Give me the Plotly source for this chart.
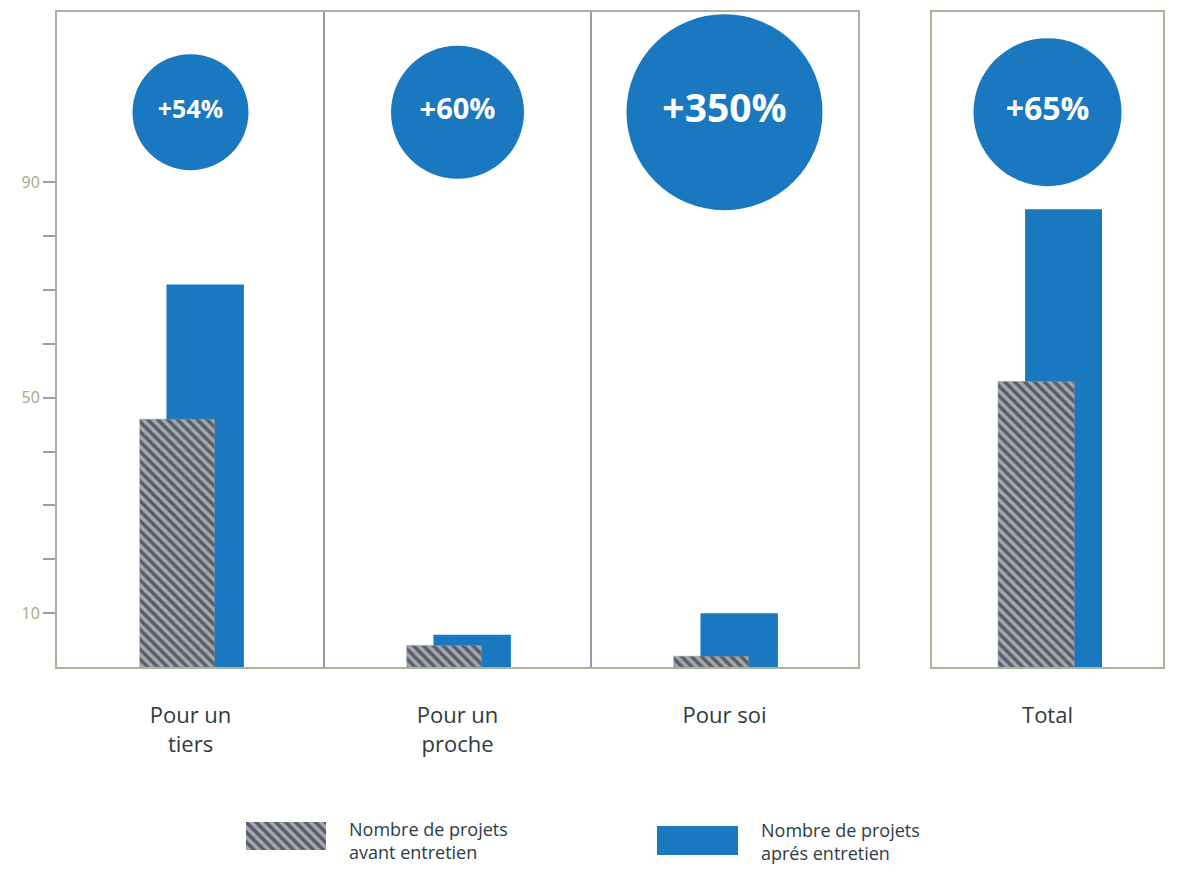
import plotly.graph_objects as go

# ---- data ----
categories = ["Pour un<br>tiers", "Pour un<br>proche", "Pour soi"]
total_category = ["Total"]
before_values = [46, 4, 2]
after_values = [71, 6, 10]
total_before = [53]
total_after = [85]
pct_labels = ["+54%", "+60%", "+350%"]
total_pct_label = ["+65%"]
y_tick_vals = [10, 20, 30, 40, 50, 60, 70, 80, 90]
y_tick_text = ["10", "", "", "", "50", "", "", "", "90"]
legend_labels = ["Nombre de projets<br>avant entretien", "Nombre de projets<br>aprés entretien"]

# ---- style ----
OFF = 8  # page body margin
W, H = 1178 - 2 * OFF, 875 - 2 * OFF
BLUE = "#1a78c1"
FRAME = "#a8b49c"
HATCH_BG = "#a3a8b2"
HATCH = dict(shape="\\", fgcolor="#0d1118", bgcolor=HATCH_BG, size=7, solidity=0.5)
FONT = "Open Sans"
bubble_sizes = [116, 133, 196]
total_bubble_size = [148]
bubble_font = [25, 29, 39]
total_bubble_font = [32]
BUBBLE_Y = 103


def px_x(p):
    return (p - OFF) / W


def px_y(p):
    return 1 - (p - OFF) / H


fig = go.Figure()

# main panel bars (after first, hatched before on top)
fig.add_trace(go.Bar(x=categories, y=after_values, offset=-0.09, width=0.29,
                     marker=dict(color=BLUE, line=dict(width=0)),
                     xaxis="x", yaxis="y", showlegend=False))
fig.add_trace(go.Bar(x=categories, y=before_values, offset=-0.19, width=0.28,
                     marker=dict(color=HATCH_BG, pattern=HATCH, line=dict(width=0.5, color="#8a8f99")),
                     xaxis="x", yaxis="y", showlegend=False))
# total panel bars
fig.add_trace(go.Bar(x=total_category, y=total_after, offset=-0.097, width=0.333,
                     marker=dict(color=BLUE, line=dict(width=0)),
                     xaxis="x2", yaxis="y2", showlegend=False))
fig.add_trace(go.Bar(x=total_category, y=total_before, offset=-0.214, width=0.33,
                     marker=dict(color=HATCH_BG, pattern=HATCH, line=dict(width=0.5, color="#8a8f99")),
                     xaxis="x2", yaxis="y2", showlegend=False))

# bubbles
fig.add_trace(go.Scatter(x=categories, y=[BUBBLE_Y] * len(categories), mode="markers+text",
                         text=["<b>%s</b>" % t for t in pct_labels], textposition="middle center",
                         textfont=dict(color="white", size=bubble_font, family=FONT),
                         marker=dict(size=bubble_sizes, color=BLUE, opacity=1, line=dict(width=0)),
                         cliponaxis=False, xaxis="x", yaxis="y", showlegend=False))
fig.add_trace(go.Scatter(x=total_category, y=[BUBBLE_Y], mode="markers+text",
                         text=["<b>%s</b>" % t for t in total_pct_label], textposition="middle center",
                         textfont=dict(color="white", size=total_bubble_font, family=FONT),
                         marker=dict(size=total_bubble_size, color=BLUE, opacity=1, line=dict(width=0)),
                         cliponaxis=False, xaxis="x2", yaxis="y2", showlegend=False))

# legend swatches
fig.add_trace(go.Bar(x=[0], y=[1], width=1, offset=-0.5,
                     marker=dict(color=HATCH_BG, pattern=HATCH, line=dict(width=0)),
                     xaxis="x3", yaxis="y3", showlegend=False, hoverinfo="skip"))
fig.add_trace(go.Bar(x=[0], y=[1], width=1, offset=-0.5,
                     marker=dict(color=BLUE, line=dict(width=0)),
                     xaxis="x4", yaxis="y4", showlegend=False, hoverinfo="skip"))

ydom = [px_y(667), px_y(12)]
yr = [0, 121.6]
common_x = dict(showline=True, mirror=True, linecolor=FRAME, linewidth=2,
                showgrid=False, zeroline=False, ticks="", ticklabelstandoff=28,
                tickfont=dict(family=FONT, size=22, color="#2e3a3f"), fixedrange=True)
hidden = dict(visible=False, fixedrange=True)

fig.update_layout(
    width=W, height=H,
    margin=dict(l=0, r=0, t=0, b=0),
    paper_bgcolor="white", plot_bgcolor="white",
    barmode="overlay",
    font=dict(family=FONT),
    xaxis=dict(domain=[px_x(57), px_x(858)], range=[-0.5, 2.5], **common_x),
    xaxis2=dict(domain=[px_x(932), px_x(1163)], range=[-0.5, 0.5], anchor="y2", **common_x),
    yaxis=dict(domain=ydom, range=yr, showline=True, mirror=True, linecolor=FRAME, linewidth=2,
               showgrid=False, zeroline=False, tickvals=y_tick_vals, ticktext=y_tick_text,
               ticks="outside", ticklen=12, tickcolor="#8fa6a8", tickwidth=1.5,
               tickfont=dict(family=FONT, size=16, color="#a9a783"), fixedrange=True),
    yaxis2=dict(domain=ydom, range=yr, anchor="x2", showline=True, mirror=True, linecolor=FRAME,
                linewidth=2, showgrid=False, zeroline=False, showticklabels=False, ticks="",
                fixedrange=True),
    xaxis3=dict(domain=[px_x(246), px_x(326)], range=[-0.5, 0.5], anchor="y3", **hidden),
    yaxis3=dict(domain=[px_y(850), px_y(822)], range=[0, 1], anchor="x3", **hidden),
    xaxis4=dict(domain=[px_x(657), px_x(738)], range=[-0.5, 0.5], anchor="y4", **hidden),
    yaxis4=dict(domain=[px_y(855), px_y(826)], range=[0, 1], anchor="x4", **hidden),
)

# dividers between categories
for xv in [0.5, 1.5]:
    fig.add_shape(type="line", xref="x", yref="y domain", x0=xv, x1=xv, y0=0, y1=1,
                  line=dict(color="#6f7f85", width=1.5))

# legend text
fig.add_annotation(xref="paper", yref="paper", x=px_x(347), y=px_y(840), xanchor="left",
                   yanchor="middle", align="left", showarrow=False, text=legend_labels[0],
                   font=dict(family=FONT, size=18, color="#2c3d44"))
fig.add_annotation(xref="paper", yref="paper", x=px_x(759), y=px_y(841), xanchor="left",
                   yanchor="middle", align="left", showarrow=False, text=legend_labels[1],
                   font=dict(family=FONT, size=18, color="#2c3d44"))

fig.write_html("out.html")
